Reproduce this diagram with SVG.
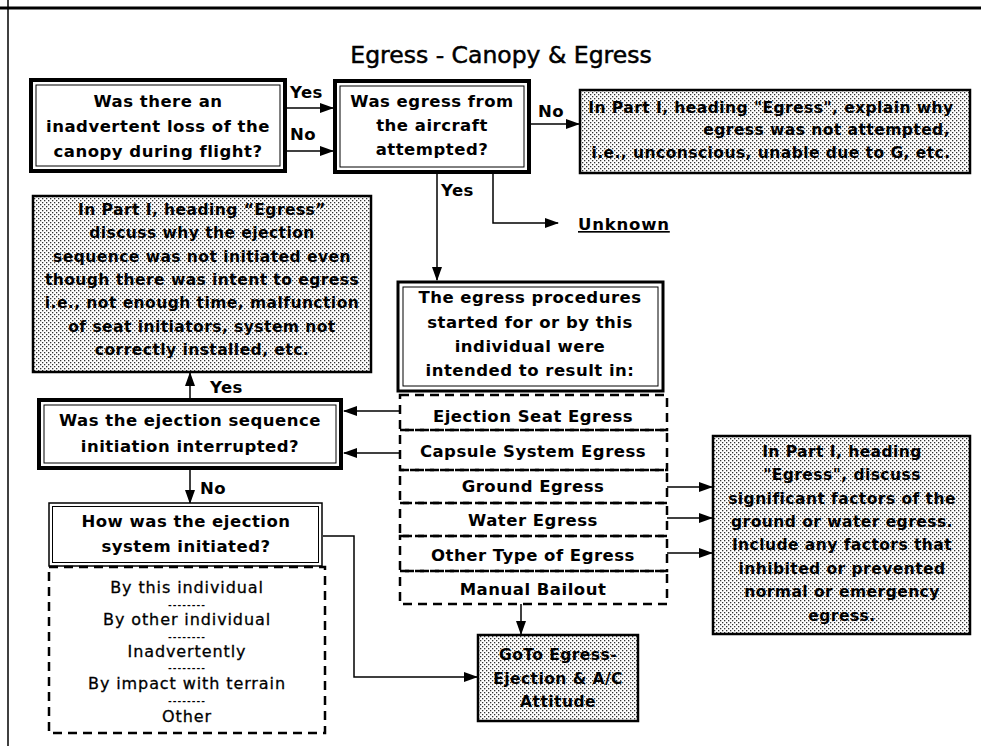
<svg xmlns="http://www.w3.org/2000/svg" width="981" height="746" viewBox="0 0 981 746">
<style>
.t{font-family:"DejaVu Sans","Liberation Sans",sans-serif;font-weight:bold;font-size:16.5px;letter-spacing:0.5px;text-anchor:middle;fill:#000}
.g{font-size:15.5px;letter-spacing:0.45px}
.lab{text-anchor:start}
.l{font-weight:normal;font-size:16px;letter-spacing:0.9px;stroke:#000;stroke-width:0.3}
.sep{font-size:9px;letter-spacing:1px}
.title{font-weight:normal;font-size:23.5px;letter-spacing:0;stroke:#000;stroke-width:0.5}
.thick{fill:#fff;stroke:#000;stroke-width:4}
.thin{fill:none;stroke:#000;stroke-width:1}
.grey{fill:url(#dots);stroke:#000;stroke-width:2.5}
.dash{fill:none;stroke:#000;stroke-width:2.5;stroke-dasharray:9 6}
.conn{stroke:#000;stroke-width:1.5;fill:none}
.arr{marker-end:url(#ah)}
</style>
<defs>
<pattern id="dots" width="4" height="4" patternUnits="userSpaceOnUse">
<rect width="4" height="4" fill="#fff"/>
<rect x="0" y="0" width="1.3" height="1.3" fill="#333"/>
<rect x="2" y="2" width="1.3" height="1.3" fill="#333"/>
</pattern>
<marker id="ah" markerWidth="14" markerHeight="10" refX="13" refY="5" orient="auto" markerUnits="userSpaceOnUse">
<path d="M0,0 L14,5 L0,10 Z" fill="#000"/>
</marker>
</defs>
<rect width="981" height="746" fill="#fff"/>
<g id="frame">
<line x1="0" y1="8" x2="981" y2="8" stroke="#000" stroke-width="3"/>
<line x1="8" y1="0" x2="8" y2="746" stroke="#000" stroke-width="1.5"/>
</g>
<text id="title" class="t title" x="501" y="63">Egress - Canopy &amp; Egress</text>

<g id="connectors">
<line class="conn arr" x1="287" y1="108" x2="333" y2="108"/>
<line class="conn arr" x1="287" y1="151" x2="333" y2="151"/>
<line class="conn arr" x1="531" y1="124" x2="579" y2="124"/>
<line class="conn arr" x1="437" y1="174" x2="437" y2="280"/>
<polyline class="conn arr" points="493,174 493,223 558,223"/>
<line class="conn arr" x1="190" y1="398" x2="190" y2="373"/>
<line class="conn arr" x1="400" y1="411" x2="344" y2="411"/>
<line class="conn arr" x1="400" y1="453" x2="344" y2="453"/>
<line class="conn arr" x1="190" y1="470" x2="190" y2="503"/>
<line class="conn arr" x1="667" y1="487" x2="712" y2="487"/>
<line class="conn arr" x1="667" y1="518" x2="712" y2="518"/>
<line class="conn arr" x1="667" y1="553" x2="712" y2="553"/>
<polyline class="conn arr" points="323,536 354,536 354,677 477,677"/>
<line class="conn arr" x1="521" y1="604" x2="521" y2="634"/>
<text class="t lab" x="290" y="98">Yes</text>
<text class="t lab" x="290" y="140">No</text>
<text class="t lab" x="538" y="117">No</text>
<text class="t lab" x="441" y="196">Yes</text>
<text class="t lab" x="210" y="393">Yes</text>
<text class="t lab" x="200" y="494">No</text>
</g>

<g id="q-canopy">
<rect class="thick" x="31" y="80" width="254" height="91"/>
<rect class="thin" x="36" y="85" width="244" height="81"/>
<text class="t" x="158" y="107">Was there an</text>
<text class="t" x="158" y="132">inadvertent loss of the</text>
<text class="t" x="158" y="157">canopy during flight?</text>
</g>

<g id="q-attempted">
<rect class="thick" x="335" y="81" width="194" height="91"/>
<rect class="thin" x="340" y="86" width="184" height="81"/>
<text class="t" x="432" y="107">Was egress from</text>
<text class="t" x="432" y="131">the aircraft</text>
<text class="t" x="432" y="155">attempted?</text>
</g>

<g id="note-not-attempted">
<rect class="grey" x="580" y="90" width="390" height="83"/>
<text class="t g" x="771" y="113">In Part I, heading "Egress", explain why</text>
<text class="t g" x="950" y="135" style="text-anchor:end">egress was not attempted,</text>
<text class="t g" x="771" y="158">i.e., unconscious, unable due to G, etc.</text>
</g>

<g id="unknown">
<text class="t lab" x="578" y="230" style="text-decoration:underline;letter-spacing:0.8px">Unknown</text>
</g>

<g id="q-procedures">
<rect class="thick" x="398" y="282" width="265" height="109" style="stroke-width:3"/>
<rect class="thin" x="403" y="287" width="255" height="99"/>
<text class="t" x="530" y="303">The egress procedures</text>
<text class="t" x="530" y="328">started for or by this</text>
<text class="t" x="530" y="352">individual were</text>
<text class="t" x="530" y="376">intended to result in:</text>
</g>

<g id="opt-ejection-seat">
<rect class="dash" x="400" y="395" width="267" height="35"/>
<text class="t" x="533" y="422">Ejection Seat Egress</text>
</g>
<g id="opt-capsule">
<rect class="dash" x="400" y="430" width="267" height="40"/>
<text class="t" x="533" y="457">Capsule System Egress</text>
</g>
<g id="opt-ground">
<rect class="dash" x="400" y="470" width="267" height="33"/>
<text class="t" x="533" y="492">Ground Egress</text>
</g>
<g id="opt-water">
<rect class="dash" x="400" y="503" width="267" height="33"/>
<text class="t" x="533" y="526">Water Egress</text>
</g>
<g id="opt-other">
<rect class="dash" x="400" y="536" width="267" height="35"/>
<text class="t" x="533" y="561">Other Type of Egress</text>
</g>
<g id="opt-manual">
<rect class="dash" x="400" y="571" width="267" height="33"/>
<text class="t" x="533" y="595">Manual Bailout</text>
</g>

<g id="note-not-initiated">
<rect class="grey" x="33" y="196" width="338" height="176"/>
<text class="t g" x="202" y="215">In Part I, heading “Egress”</text>
<text class="t g" x="202" y="238">discuss why the ejection</text>
<text class="t g" x="202" y="262">sequence was not initiated even</text>
<text class="t g" x="202" y="285">though there was intent to egress</text>
<text class="t g" x="202" y="308">i.e., not enough time, malfunction</text>
<text class="t g" x="202" y="332">of seat initiators, system not</text>
<text class="t g" x="202" y="355">correctly installed, etc.</text>
</g>

<g id="q-interrupted">
<rect class="thick" x="39" y="400" width="302" height="68"/>
<rect class="thin" x="44" y="405" width="292" height="58"/>
<text class="t" x="190" y="426">Was the ejection sequence</text>
<text class="t" x="190" y="452">initiation interrupted?</text>
</g>

<g id="q-how-initiated">
<rect x="49" y="503" width="273" height="63" fill="#fff" stroke="#000" stroke-width="1.5"/>
<rect class="thin" x="52.5" y="506.5" width="266" height="56"/>
<text class="t" x="186" y="527">How was the ejection</text>
<text class="t" x="186" y="552">system initiated?</text>
</g>

<g id="how-options">
<rect class="dash" x="49" y="567" width="276" height="166"/>
<text class="t l" x="187" y="593">By this individual</text>
<text class="t sep" x="187" y="608">--------</text>
<text class="t l" x="187" y="625">By other individual</text>
<text class="t sep" x="187" y="640">--------</text>
<text class="t l" x="187" y="657">Inadvertently</text>
<text class="t sep" x="187" y="671">--------</text>
<text class="t l" x="187" y="689">By impact with terrain</text>
<text class="t sep" x="187" y="704">--------</text>
<text class="t l" x="187" y="722">Other</text>
</g>

<g id="note-ground-water">
<rect class="grey" x="713" y="436" width="257" height="198"/>
<text class="t g" x="842" y="457">In Part I, heading</text>
<text class="t g" x="842" y="480">"Egress", discuss</text>
<text class="t g" x="842" y="504">significant factors of the</text>
<text class="t g" x="842" y="527">ground or water egress.</text>
<text class="t g" x="842" y="550">Include any factors that</text>
<text class="t g" x="842" y="574">inhibited or prevented</text>
<text class="t g" x="842" y="597">normal or emergency</text>
<text class="t g" x="842" y="621">egress.</text>
</g>

<g id="goto-ejection">
<rect class="grey" x="478" y="635" width="160" height="86"/>
<text class="t g" x="558" y="660">GoTo Egress-</text>
<text class="t g" x="558" y="684">Ejection &amp; A/C</text>
<text class="t g" x="558" y="707">Attitude</text>
</g>
</svg>
